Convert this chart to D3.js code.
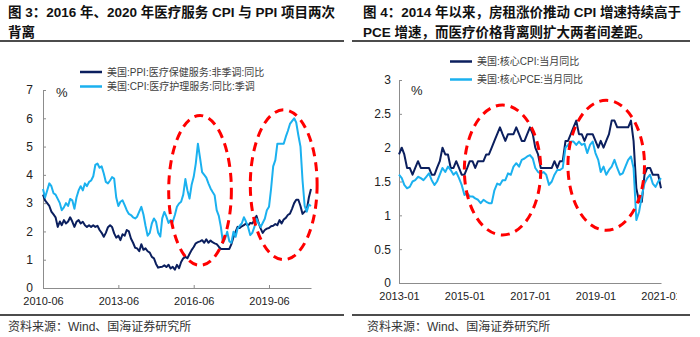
<!DOCTYPE html>
<html>
<head>
<meta charset="utf-8">
<script src="https://cdn.jsdelivr.net/npm/d3@7"></script>
<style>
  body { margin: 0; background: #fff; }
  svg { display: block; }
  text { font-family: "Liberation Sans", Arial, "Noto Sans CJK SC", sans-serif; }
</style>
</head>
<body>
<svg id="chart" width="700" height="337"></svg>
<script>
// left panel: monthly, 2010-06 .. 2021-02
const leftStart = "2010-06";
const leftTicks = ["2010-06", "2013-06", "2016-06", "2019-06"];
const ppiMedical = [
  3.3, 3.1, 3.0, 2.9, 2.7, 2.6, 2.5, 2.16, 2.35, 2.22, 2.4, 2.28,
  2.35, 2.5, 2.35, 2.16, 2.34, 2.4, 2.28, 2.34, 2.22, 2.16, 2.22, 2.16,
  2.22, 2.16, 2.2, 2.05, 1.95, 1.81, 1.95, 2.15, 2.22, 2.16, 1.93, 1.78,
  1.85, 1.69, 1.9, 1.85, 2.05, 2.0, 1.75, 1.6, 1.42, 1.4, 1.3, 1.55,
  1.35, 1.4, 1.3, 1.25, 1.1, 1.05, 0.85, 0.72, 0.74, 0.75, 0.8, 0.74,
  0.82, 0.69, 0.75, 0.65, 0.82, 0.7, 0.92, 1.05, 1.1, 1.05, 1.2, 1.34,
  1.45, 1.58, 1.62, 1.65, 1.69, 1.6, 1.72, 1.6, 1.68, 1.62, 1.58, 1.55,
  1.46, 1.38, 1.38, 1.38, 1.38, 1.38, 1.55, 1.8, 1.99, 2.16, 2.12, 2.18,
  2.22, 2.28, 2.2, 2.3, 2.28, 2.4, 2.55, 2.3, 2.1, 1.95, 2.05, 2.1,
  2.12, 2.18, 2.2, 2.26, 2.22, 2.4, 2.28, 2.42, 2.48, 2.58, 2.63, 2.8,
  3.0, 3.12, 3.12, 2.9, 2.62, 2.7, 2.75, 3.2, 3.5
];
const cpiMedical = [
  3.5, 3.2, 3.45, 3.7, 3.6, 3.35, 3.3, 3.15, 3.0, 2.75, 2.85, 3.0,
  2.9, 3.15, 3.1, 2.8, 3.2, 3.45, 3.6, 3.45, 3.7, 3.6, 3.75, 3.8,
  3.95, 4.35, 4.4, 4.25, 4.3, 4.05, 3.75, 3.7, 3.8, 3.92, 3.87, 3.2,
  2.9, 3.05, 3.1, 2.93, 2.75, 2.62, 2.58, 2.5, 2.46, 2.52, 2.7, 2.87,
  2.6, 2.2, 1.85, 1.95, 2.28, 2.46, 2.34, 1.95, 1.82, 2.46, 2.69, 2.52,
  2.3, 2.4, 2.34, 2.58, 2.87, 2.99, 3.05, 3.3, 3.85, 3.46, 3.16, 3.64,
  3.93, 4.4, 5.1, 4.6, 4.1, 4.0, 3.9, 3.7, 3.52, 3.4, 3.28, 2.75,
  2.55, 2.16, 1.6, 1.75, 1.99, 1.65, 1.6, 1.99, 1.81, 2.1, 2.2, 2.28,
  2.5, 2.35, 2.16, 1.87, 1.95, 2.16, 2.45, 2.28, 2.16, 2.3, 2.45, 2.75,
  2.87, 3.5, 4.3, 4.52, 5.1, 5.1, 5.1, 5.1, 5.35, 5.55, 5.8, 5.9,
  6.0, 5.85, 5.4, 5.0, 3.8, 2.9, 2.7, 2.95, 2.9
];

// right panel: monthly, 2013-01 .. 2021-01
const rightStart = "2013-01";
const rightTicks = ["2013-01", "2015-01", "2017-01", "2019-01", "2021-01"];
const coreCpi = [
  1.9, 2.0, 1.9, 1.7, 1.7, 1.6, 1.7, 1.8, 1.7, 1.7, 1.7, 1.7,
  1.6, 1.6, 1.7, 1.8, 2.0, 1.9, 1.9, 1.7, 1.7, 1.8, 1.7, 1.6,
  1.6, 1.7, 1.8, 1.8, 1.7, 1.8, 1.8, 1.8, 1.9, 1.9, 2.0, 2.1,
  2.2, 2.3, 2.2, 2.1, 2.2, 2.2, 2.2, 2.3, 2.2, 2.1, 2.1, 2.2,
  2.3, 2.2, 2.0, 1.9, 1.7, 1.7, 1.7, 1.7, 1.7, 1.8, 1.7, 1.8,
  1.8, 2.1, 2.1, 2.2, 2.3, 2.4, 2.2, 2.2, 2.1, 2.2, 2.2, 2.2,
  2.1, 2.0, 2.1, 2.0, 2.1, 2.2, 2.4, 2.4, 2.3, 2.3, 2.3, 2.3,
  2.3, 2.4, 2.1, 1.4, 1.2, 1.2, 1.6, 1.7, 1.7, 1.6, 1.6, 1.6,
  1.4
];
const corePce = [
  1.6, 1.55, 1.45, 1.4, 1.42, 1.5, 1.52, 1.57, 1.55, 1.52, 1.57, 1.62,
  1.52, 1.45, 1.5, 1.6, 1.7, 1.64, 1.72, 1.67, 1.6, 1.64, 1.55, 1.45,
  1.3, 1.33, 1.28, 1.28, 1.25, 1.23, 1.18, 1.23, 1.2, 1.18, 1.18, 1.37,
  1.47, 1.45, 1.52, 1.52, 1.62, 1.6, 1.72, 1.77, 1.72, 1.82, 1.84, 1.87,
  1.89, 1.84, 1.7, 1.64, 1.62, 1.64, 1.6, 1.45, 1.5, 1.6, 1.67, 1.67,
  1.7, 2.0, 2.04, 2.09, 2.09, 2.04, 2.09, 2.04, 2.06, 1.92, 2.04, 2.09,
  1.92, 1.82, 1.64, 1.72, 1.6, 1.67, 1.72, 1.82, 1.7, 1.6, 1.62, 1.72,
  1.82, 1.87, 1.7, 0.93, 1.05, 1.28, 1.47, 1.55, 1.6, 1.47, 1.42, 1.5,
  1.55
];

const NAVY = "#0b1f5e";
const SKY = "#1bb1ef";
const parseMonth = d3.timeParse("%Y-%m");

const svg = d3.select("#chart");

function monthly(start, values) {
  const t0 = parseMonth(start);
  return values.map((v, i) => ({ date: d3.timeMonth.offset(t0, i), value: v }));
}

function drawPanel(cfg) {
  const g = svg.append("g");

  // titles, rules and source note
  cfg.title.forEach((line, i) => {
    g.append("text")
      .attr("x", cfg.titleX).attr("y", 17 + i * 20)
      .attr("font-size", 13.5).attr("font-weight", "bold").attr("fill", "#111")
      .text(line);
  });
  [41, 315].forEach(y => {
    g.append("line")
      .attr("x1", cfg.ruleX[0]).attr("x2", cfg.ruleX[1])
      .attr("y1", y).attr("y2", y)
      .attr("stroke", "#111").attr("stroke-width", 1.6);
  });
  g.append("text")
    .attr("x", cfg.sourceX).attr("y", 331)
    .attr("font-size", 12).attr("fill", "#333")
    .text("资料来源：Wind、国海证券研究所");

  const x = d3.scaleTime().domain(cfg.xDomain.map(parseMonth)).range(cfg.xRange);
  const y = d3.scaleLinear().domain(cfg.yDomain).range(cfg.yRange);

  // axes
  const xAxis = g.append("g")
    .attr("transform", `translate(0,${cfg.yRange[0]})`)
    .call(d3.axisBottom(x)
      .tickValues(cfg.ticks.map(parseMonth))
      .tickFormat(d3.timeFormat("%Y-%m"))
      .tickSizeInner(-3).tickSizeOuter(0).tickPadding(9));
  xAxis.select(".domain").attr("stroke", "#8c8c8c");
  xAxis.selectAll(".tick line").attr("stroke", "#8c8c8c");
  xAxis.selectAll(".tick text")
    .attr("font-size", 11).attr("fill", "#222")
    .attr("font-family", "Liberation Sans, Arial, sans-serif");
  if (cfg.labelClip) {
    svg.append("clipPath").attr("id", cfg.labelClip.id)
      .append("rect")
      .attr("x", cfg.labelClip.x0).attr("y", 0)
      .attr("width", cfg.labelClip.x1 - cfg.labelClip.x0).attr("height", 337);
    xAxis.attr("clip-path", `url(#${cfg.labelClip.id})`);
  }

  const yAxis = g.append("g")
    .attr("transform", `translate(${cfg.xRange[0]},0)`)
    .call(d3.axisLeft(y)
      .tickValues(cfg.yTicks)
      .tickFormat(d => d3.format("~g")(d))
      .tickSizeInner(-3).tickSizeOuter(0).tickPadding(cfg.yPad));
  yAxis.select(".domain").attr("stroke", "#8c8c8c");
  yAxis.selectAll(".tick line").attr("stroke", "#8c8c8c");
  yAxis.selectAll(".tick text")
    .attr("font-size", 12).attr("fill", "#222")
    .attr("font-family", "Liberation Sans, Arial, sans-serif");

  g.append("text")
    .attr("x", cfg.percent[0]).attr("y", cfg.percent[1])
    .attr("font-size", 13).attr("fill", "#222")
    .text("%");

  // series, drawn in legend order so the second one sits on top
  const line = d3.line().x(d => x(d.date)).y(d => y(d.value));
  cfg.series.forEach(s => {
    g.append("path")
      .datum(monthly(cfg.start, s.values))
      .attr("fill", "none")
      .attr("stroke", s.color)
      .attr("stroke-width", 2)
      .attr("stroke-linejoin", "round")
      .attr("d", line);
  });

  // legend
  cfg.series.forEach((s, i) => {
    const ly = cfg.legend.y + i * cfg.legend.step;
    g.append("line")
      .attr("x1", cfg.legend.x).attr("x2", cfg.legend.x + 22)
      .attr("y1", ly).attr("y2", ly)
      .attr("stroke", s.color).attr("stroke-width", 2.5);
    g.append("text")
      .attr("x", cfg.legend.x + 27).attr("y", ly + 3.5)
      .attr("font-size", 10).attr("fill", "#404040")
      .text(s.name);
  });

  // dashed rings around the divergence periods
  cfg.rings.forEach(r => {
    const cx = x(parseMonth(r.center[0]));
    const cy = y(r.center[1]);
    g.append("ellipse")
      .attr("cx", cx).attr("cy", cy)
      .attr("rx", Math.abs(x(parseMonth(r.right)) - cx))
      .attr("ry", Math.abs(y(r.top) - cy))
      .attr("fill", "none")
      .attr("stroke", "#ff0000")
      .attr("stroke-width", 3)
      .attr("stroke-dasharray", "9,6");
  });
}

drawPanel({
  title: ["图 3：2016 年、2020 年医疗服务 CPI 与 PPI 项目两次", "背离"],
  titleX: 8,
  ruleX: [0, 344],
  sourceX: 8,
  start: leftStart,
  xDomain: ["2010-06", "2021-02"],
  xRange: [43, 311],
  yDomain: [0, 7],
  yRange: [288, 90],
  yTicks: [0, 1, 2, 3, 4, 5, 6, 7],
  yPad: 10,
  ticks: leftTicks,
  percent: [56, 97],
  legend: { x: 80, y: 72, step: 14.5 },
  series: [
    { name: "美国:PPI:医疗保健服务:非季调:同比", color: NAVY, values: ppiMedical },
    { name: "美国:CPI:医疗护理服务:同比:季调", color: SKY, values: cpiMedical }
  ],
  rings: [
    { center: ["2016-09", 3.45], right: "2017-12", top: 6.1 },
    { center: ["2020-01", 3.65], right: "2021-05", top: 6.3 }
  ]
});

drawPanel({
  title: ["图 4：2014 年以来，房租涨价推动 CPI 增速持续高于", "PCE 增速，而医疗价格背离则扩大两者间差距。"],
  titleX: 363,
  ruleX: [352, 690],
  sourceX: 367,
  start: rightStart,
  xDomain: ["2013-01", "2021-01"],
  xRange: [399, 661],
  yDomain: [0, 3],
  yRange: [283, 80],
  yTicks: [0, 0.5, 1, 1.5, 2, 2.5, 3],
  yPad: 8,
  ticks: rightTicks,
  labelClip: { id: "right-labels", x0: 350, x1: 677 },
  percent: [411, 95],
  legend: { x: 450, y: 61.5, step: 18 },
  series: [
    { name: "美国:核心CPI:当月同比", color: NAVY, values: coreCpi },
    { name: "美国:核心PCE:当月同比", color: SKY, values: corePce }
  ],
  rings: [
    { center: ["2016-03", 1.67], right: "2017-05", top: 2.63 },
    { center: ["2019-05", 1.74], right: "2020-07", top: 2.7 }
  ]
});
</script>
</body>
</html>
